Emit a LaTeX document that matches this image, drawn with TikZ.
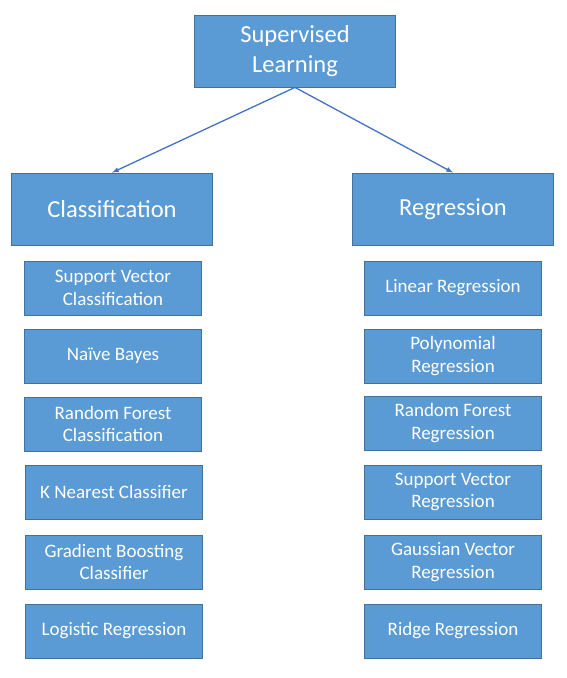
\documentclass[tikz,border=0pt]{standalone}
\usepackage{fontspec}
\setmainfont{Carlito}
\usepackage{tikz}
\usetikzlibrary{arrows}
\definecolor{boxblue}{HTML}{5B9BD5}
\definecolor{boxline}{HTML}{41719C}
\definecolor{arrowblue}{HTML}{4472C4}
\tikzset{
bigbox/.style={draw=boxline, fill=boxblue, line width=0.8pt, text=white,
  align=center, inner sep=0pt, minimum width=201pt, minimum height=72pt,
  font=\fontsize{24.5}{30}\selectfont},
algbox/.style={draw=boxline, fill=boxblue, line width=0.8pt, text=white,
  align=center, inner sep=0pt, minimum width=177pt, minimum height=54pt,
  font=\fontsize{19}{22.5}\selectfont}
}

\begin{document}
\begin{tikzpicture}[x=1pt, y=-1pt]
\useasboundingbox (0,0) rectangle (566,678);
\node (SL) [bigbox] at (295,51) {Supervised\\Learning};
\node (CL) [bigbox] at (112,209) {Classification};
\node (RG) [bigbox] at (453,209) {Regression};
\draw [arrowblue, line width=1.3pt, -latex] (SL.south) -- (CL.north);
\draw [arrowblue, line width=1.3pt, -latex] (SL.south) -- (RG.north);

\node (svc) [algbox] at (113,288) {Support Vector\\Classification};
\node (nb)  [algbox] at (113,356) {Naïve Bayes};
\node (rfc) [algbox] at (113,424) {Random Forest\\Classification};
\node (knn) [algbox] at (114,492) {K Nearest Classifier};
\node (gbc) [algbox] at (114,562) {Gradient Boosting\\Classifier};
\node (lgr) [algbox] at (114,631) {Logistic Regression};

\node (lin) [algbox] at (453,288) {Linear Regression};
\node (poly) [algbox] at (453,356) {Polynomial\\Regression};
\node (rfr) [algbox] at (453,423) {Random Forest\\Regression};
\node (svr) [algbox] at (453,492) {Support Vector\\Regression};
\node (gvr) [algbox] at (453,562) {Gaussian Vector\\Regression};
\node (rdg) [algbox] at (453,631) {Ridge Regression};
\end{tikzpicture}
\end{document}
